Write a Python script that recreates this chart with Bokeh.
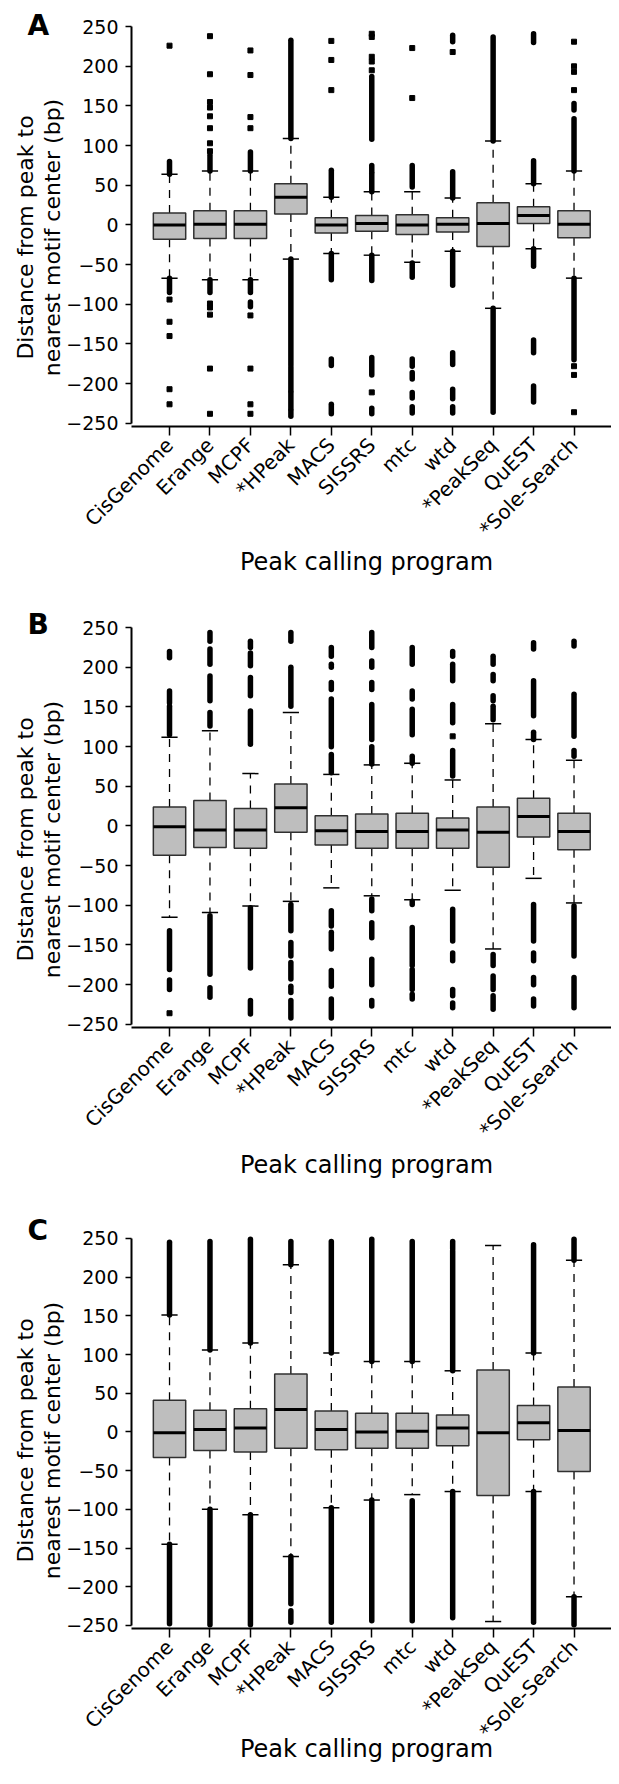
from math import pi
from bokeh.plotting import figure
from bokeh.models import FixedTicker, Label
from bokeh.layouts import column
from bokeh.embed import file_html
from bokeh.resources import INLINE

# ---------------- data ----------------
categories = ["CisGenome", "Erange", "MCPF", "*HPeak", "MACS", "SISSRS",
              "mtc", "wtd", "*PeakSeq", "QuEST", "*Sole-Search"]
y_ticks = [-250, -200, -150, -100, -50, 0, 50, 100, 150, 200, 250]
panel_letters = ["A", "B", "C"]
x_title = "Peak calling program"
y_title_lines = ["Distance from peak to", "nearest motif center (bp)"]

# Panel A: box statistics
A_q1 = [-18, -17, -17, 14, -10, -8, -12, -9, -27, 2, -16]
A_med = [0, 1, 1, 35, 0, 2, 0, 1, 2, 12, 1]
A_q3 = [15, 18, 18, 52, 9, 12, 13, 9, 28, 23, 18]
A_wlo = [-67, -69, -69, -43, -36, -38, -47, -33, -105, -30, -67]
A_whi = [64, 68, 68, 109, 35, 42, 42, 34, 106, 52, 68]
# Panel A: dense runs of outliers (category number, low, high)
A_band_x = [1, 1, 2, 2, 3, 3, 3, 4, 4, 4, 4, 4, 5, 5, 5, 5, 6, 6, 6, 6, 6, 6,
            7, 7, 7, 7, 7, 7, 8, 8, 8, 8, 8, 8, 9, 9, 10, 10, 10, 10, 10, 11, 11, 11]
A_band_lo = [64, -85, 68, -85, 68, -85, -103, 109, -176, -209, -232, -241,
             35, -69, -177, -238, 42, 67, 108, -70, -189, -238,
             48, -66, -178, -194, -218, -237, 34, 231, -76, -176, -219, -237,
             106, -236, 52, 230, -52, -161, -223, 68, 145, -170]
A_band_hi = [80, -67, 88, -69, 92, -69, -97, 233, -43, -179, -211, -234,
             69, -36, -169, -226, 65, 75, 187, -38, -167, -231,
             75, -48, -169, -186, -211, -229, 67, 239, -33, -161, -207, -229,
             237, -105, 81, 241, -30, -145, -203, 134, 153, -67]
# Panel A: isolated outliers
A_pt_x = [1, 1, 1, 1, 1, 1,
          2, 2, 2, 2, 2, 2, 2, 2, 2, 2, 2, 2, 2,
          3, 3, 3, 3, 3, 3, 3, 3,
          5, 5, 5,
          6, 6, 6, 6, 6, 6,
          7, 7,
          8,
          11, 11, 11, 11, 11, 11, 11]
A_pt_y = [226, -94, -122, -140, -207, -226,
          238, 190, 155, 148, 137, 122, 103, 93, -99, -104, -113, -181, -238,
          220, 189, 136, 122, -114, -181, -226, -238,
          232, 208, 170,
          195, 206, 212, 237, 241, -211,
          160, 223,
          218,
          170, 193, 200, 231, -178, -189, -236]

# Panel B
B_q1 = [-37, -27, -28, -8, -24, -28, -28, -28, -52, -14, -30]
B_med = [-1, -5, -5, 23, -6, -7, -7, -5, -8, 12, -7]
B_q3 = [24, 32, 22, 53, 13, 15, 16, 10, 24, 35, 16]
B_wlo = [-115, -109, -101, -95, -78, -88, -93, -81, -155, -66, -97]
B_whi = [112, 120, 66, 143, 65, 77, 79, 58, 129, 109, 83]
B_band_x = [1, 1, 1, 1, 1,
            2, 2, 2, 2, 2, 2,
            3, 3, 3, 3, 3, 3,
            4, 4, 4, 4, 4, 4, 4,
            5, 5, 5, 5, 5, 5, 5, 5, 5,
            6, 6, 6, 6, 6, 6, 6, 6, 6,
            7, 7, 7, 7, 7, 7, 7, 7,
            8, 8, 8, 8, 8, 8, 8, 8,
            9, 9, 9, 9, 9, 9, 9,
            10, 10, 10, 10, 10, 10, 10,
            11, 11, 11, 11, 11]
B_band_lo = [115, 155, 212, -181, -206,
             126, 158, 204, 233, -187, -216,
             103, 164, 202, 225, -179, -237,
             151, 233, -132, -164, -193, -210, -242,
             67, 100, 172, 200, 214, -126, -155, -202, -242,
             78, 109, 172, 200, 225, -107, -141, -200, -227,
             79, 115, 160, 204, -99, -176, -206, -218,
             63, 130, 183, 214, -145, -170, -214, -229,
             134, 158, 183, 204, -176, -206, -231,
             109, 139, 223, -145, -170, -200, -227,
             88, 113, 227, -164, -229]
B_band_hi = [151, 170, 220, -132, -194,
             143, 189, 223, 244, -113, -204,
             145, 187, 218, 233, -103, -220,
             200, 244, -99, -147, -172, -202, -220,
             90, 160, 181, 204, 225, -107, -134, -182, -218,
             100, 153, 181, 208, 244, -92, -122, -168, -220,
             88, 147, 170, 225, -95, -128, -181, -212,
             95, 153, 204, 220, -105, -160, -206, -223,
             151, 164, 191, 214, -162, -189, -214,
             118, 183, 231, -99, -160, -191, -218,
             95, 166, 233, -101, -191]
B_pt_x = [1, 8]
B_pt_y = [-236, 113]

# Panel C
C_q1 = [-33, -24, -26, -21, -23, -21, -21, -18, -82, -10, -51]
C_med = [-1, 3, 5, 29, 3, 0, 1, 5, -1, 12, 2]
C_q3 = [41, 28, 30, 75, 27, 24, 24, 22, 80, 34, 58]
C_wlo = [-145, -100, -107, -161, -98, -88, -81, -77, -245, -77, -213]
C_whi = [151, 106, 115, 216, 102, 91, 91, 79, 241, 102, 222]
C_band_x = [1, 1, 2, 2, 3, 3, 4, 4, 4, 5, 5, 6, 6, 7, 7, 8, 8, 8, 10, 10, 11, 11]
C_band_lo = [151, -248, 106, -249, 115, -249, 216, -222, -246, 102, -246,
             91, -244, 91, -244, 79, 237, -240, 102, -246, 222, -249]
C_band_hi = [245, -145, 246, -100, 249, -107, 246, -161, -231, 246, -98,
             249, -88, 246, -89, 234, 246, -77, 242, -77, 249, -213]
C_pt_x = []
C_pt_y = []

# ---------------- layout / style ----------------
FONT = "DejaVu Sans"
PAGE = 8            # body margin
FIG_W = 611
PX_PER_CAT = 40.45  # horizontal scale (px per category)
X_AXIS_PAGE = 139   # page x of the y axis
X_LEFT = 0.06       # data x where the y axis sits
X_RIGHT = X_LEFT + (PAGE + FIG_W - X_AXIS_PAGE) / PX_PER_CAT
XS = X_LEFT - (X_AXIS_PAGE - PAGE) / PX_PER_CAT
Y_AX = -254         # data y where the x axis line sits
BOX_FILL = "#BEBEBE"


def make_panel(letter, fig_top, height, axis_page, scale, q1, med, q3, wlo, whi,
               bx, blo, bhi, px, py, letter_base, ytitle_center, xtitle_base):
    y_end = Y_AX + (axis_page - fig_top) / scale
    y_start = Y_AX - (fig_top + height - axis_page) / scale
    p = figure(width=FIG_W, height=height, x_range=(XS, X_RIGHT),
               y_range=(y_start, y_end),
               output_backend="svg", toolbar_location=None,
               min_border_left=0, min_border_right=0,
               min_border_top=0, min_border_bottom=0)
    p.outline_line_color = None
    p.xgrid.visible = False
    p.ygrid.visible = False
    p.background_fill_color = "white"
    p.border_fill_color = "white"

    def dx(page_x):
        return XS + (page_x - PAGE) / PX_PER_CAT

    def dy(page_y):
        return Y_AX + (axis_page - page_y) / scale

    xs = list(range(1, len(categories) + 1))
    hw = 0.4   # half box width
    cw = 0.2   # half staple width

    # whiskers (dashed)
    p.segment(x0=xs, y0=q3, x1=xs, y1=whi, line_color="black",
              line_width=1.3, line_dash="8 7")
    p.segment(x0=xs, y0=q1, x1=xs, y1=wlo, line_color="black",
              line_width=1.3, line_dash="8 7")
    # staples
    p.segment(x0=[x - cw for x in xs], y0=whi, x1=[x + cw for x in xs], y1=whi,
              line_color="black", line_width=1.5)
    p.segment(x0=[x - cw for x in xs], y0=wlo, x1=[x + cw for x in xs], y1=wlo,
              line_color="black", line_width=1.5)
    # boxes
    p.quad(left=[x - hw for x in xs], right=[x + hw for x in xs], top=q3, bottom=q1,
           fill_color=BOX_FILL, line_color="#303030", line_width=1.5)
    # medians
    p.segment(x0=[x - hw for x in xs], y0=med, x1=[x + hw for x in xs], y1=med,
              line_color="black", line_width=3)
    # dense outlier runs
    p.segment(x0=bx, y0=blo, x1=bx, y1=bhi, line_color="black",
              line_width=5.5, line_cap="round")
    # isolated outliers
    p.scatter(x=px, y=py, marker="square", size=5, line_width=1,
              fill_color="black", line_color="black")

    # axes (placed inside the canvas at fixed data locations)
    p.xaxis.fixed_location = Y_AX
    p.xaxis.bounds = (X_LEFT, X_RIGHT)
    p.xaxis.ticker = FixedTicker(ticks=xs)
    p.xaxis.major_label_overrides = {x: c for x, c in zip(xs, categories)}
    p.xaxis.major_label_orientation = pi / 4
    p.xaxis.major_label_text_font = FONT
    p.xaxis.major_label_text_font_size = "20px"
    p.xaxis.major_label_text_color = "black"
    p.xaxis.major_label_standoff = 6
    p.xaxis.major_tick_out = 9
    p.xaxis.major_tick_in = 0
    p.xaxis.minor_tick_line_color = None
    p.xaxis.axis_line_width = 2
    p.xaxis.major_tick_line_width = 1.5
    p.xaxis.axis_line_color = "black"
    p.xaxis.major_tick_line_color = "black"

    p.yaxis.fixed_location = X_LEFT
    p.yaxis.ticker = FixedTicker(ticks=y_ticks)
    p.yaxis.bounds = (y_ticks[0], y_ticks[-1])
    p.yaxis.major_label_overrides = {t: str(t).replace("-", "\u2212") for t in y_ticks}
    p.yaxis.major_label_text_font = FONT
    p.yaxis.major_label_text_font_size = "19px"
    p.yaxis.major_label_text_color = "black"
    p.yaxis.major_label_standoff = 7
    p.yaxis.major_tick_out = 6
    p.yaxis.major_tick_in = 0
    p.yaxis.minor_tick_line_color = None
    p.yaxis.axis_line_width = 2
    p.yaxis.major_tick_line_width = 1.5
    p.yaxis.axis_line_color = "black"
    p.yaxis.major_tick_line_color = "black"

    # panel letter
    p.add_layout(Label(x=dx(35), y=dy(letter_base), text=letter,
                       text_font=FONT, text_font_style="bold",
                       text_font_size="28px", text_align="left",
                       text_baseline="alphabetic", text_color="black"))
    # y title (two lines)
    for line, base_x in zip(y_title_lines, [33, 60]):
        p.add_layout(Label(x=dx(base_x), y=dy(ytitle_center), text=line,
                           angle=pi / 2, text_font=FONT, text_font_size="22px",
                           text_align="center", text_baseline="alphabetic",
                           text_color="black"))
    # x title
    p.add_layout(Label(x=dx(374), y=dy(xtitle_base), text=x_title,
                       text_font=FONT, text_font_size="24px",
                       text_align="center", text_baseline="alphabetic",
                       text_color="black"))
    return p


pA = make_panel(panel_letters[0], 8, 601, 434, 407 / 513, A_q1, A_med, A_q3, A_wlo, A_whi,
                A_band_x, A_band_lo, A_band_hi, A_pt_x, A_pt_y, 33.3, 245, 569.4)
pB = make_panel(panel_letters[1], 609, 611, 1035, 407 / 513, B_q1, B_med, B_q3, B_wlo, B_whi,
                B_band_x, B_band_lo, B_band_hi, B_pt_x, B_pt_y, 632, 847, 1172.7)
pC = make_panel(panel_letters[2], 1220, 556, 1636, 397 / 513, C_q1, C_med, C_q3, C_wlo, C_whi,
                C_band_x, C_band_lo, C_band_hi, C_pt_x, C_pt_y, 1238.3, 1448, 1756)

layout = column(pA, pB, pC, spacing=0)
open("out.html", "w").write(file_html(layout, INLINE))
